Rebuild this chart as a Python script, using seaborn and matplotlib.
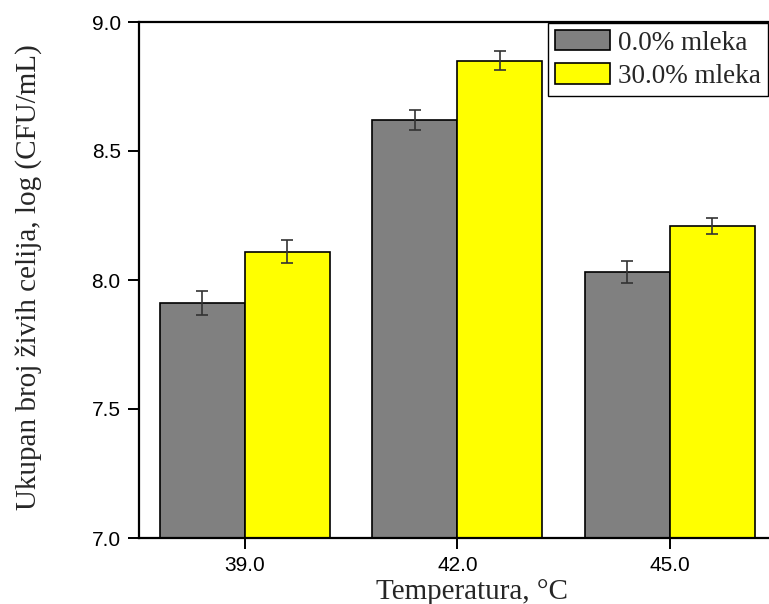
import matplotlib
matplotlib.use("Agg")
import matplotlib.pyplot as plt
import seaborn as sns
import pandas as pd
import numpy as np
from matplotlib.ticker import FormatStrFormatter, MultipleLocator

temperatures = ["39.0", "42.0", "45.0"]
series_names = ["0.0% mleka", "30.0% mleka"]
values_0 = [7.91, 8.62, 8.03]
values_30 = [8.11, 8.85, 8.21]
err_0 = [0.046, 0.037, 0.042]
err_30 = [0.045, 0.037, 0.032]
colors = ["#808080", "#FFFF00"]

df = pd.DataFrame({
    "Temperatura": temperatures * 2,
    "value": values_0 + values_30,
    "err": err_0 + err_30,
    "series": [series_names[0]] * 3 + [series_names[1]] * 3,
})

sns.set_style("ticks")
plt.rcParams["font.family"] = ["Liberation Sans", "DejaVu Sans"]

fig = plt.figure(figsize=(7.69, 6.04), dpi=100)
ax = fig.add_axes([138.7 / 769, 66 / 604, (776 - 138.7) / 769, (538 - 22) / 604])

sns.barplot(data=df, x="Temperatura", y="value", hue="series", order=temperatures,
            hue_order=series_names, palette=colors, edgecolor="black", linewidth=1.2,
            width=0.8, gap=0, errorbar=None, saturation=1, ax=ax)

for cont, errs in zip(ax.containers, [err_0, err_30]):
    xs = [b.get_x() + b.get_width() / 2 for b in cont]
    ys = [b.get_height() for b in cont]
    ax.errorbar(xs, ys, yerr=errs, fmt="none", ecolor="#333333", elinewidth=1.2,
                capsize=4, capthick=1.2, zorder=5)

ax.set_ylim(7.0, 9.0)
ax.set_xlim(-0.5, 2.5)
ax.yaxis.set_major_locator(MultipleLocator(0.5))
ax.yaxis.set_major_formatter(FormatStrFormatter("%.1f"))

for side in ["left", "bottom", "top", "right"]:
    ax.spines[side].set_visible(True)
    ax.spines[side].set_linewidth(1.6)
    ax.spines[side].set_color("black")

ax.tick_params(axis="both", direction="out", length=8, width=1.4, labelsize=15, pad=5,
               colors="black")
ax.tick_params(top=False, right=False)

serif = ["Liberation Serif", "DejaVu Serif"]
ax.set_xlabel("Temperatura, \u00b0C", fontsize=21, family=serif, labelpad=3)
ax.xaxis.label.set_x(0.523)
ax.set_ylabel("Ukupan broj \u017eivih celija, log (CFU/mL)", fontsize=21, family=serif, labelpad=36)
ax.yaxis.label.set_y(0.505)

leg = ax.legend(loc="upper right", bbox_to_anchor=(768 / 769, 1 - 23 / 604),
                bbox_transform=fig.transFigure, borderaxespad=0, frameon=True,
                fancybox=False, prop={"family": serif, "size": 19.5},
                handlelength=2.05, handleheight=0.8, handletextpad=0.3,
                labelspacing=0.28, borderpad=0.25, title=None)
leg.get_frame().set_edgecolor("black")
leg.get_frame().set_linewidth(1.0)
leg.get_frame().set_alpha(1)

fig.savefig("out.png", dpi=100, facecolor="white")
